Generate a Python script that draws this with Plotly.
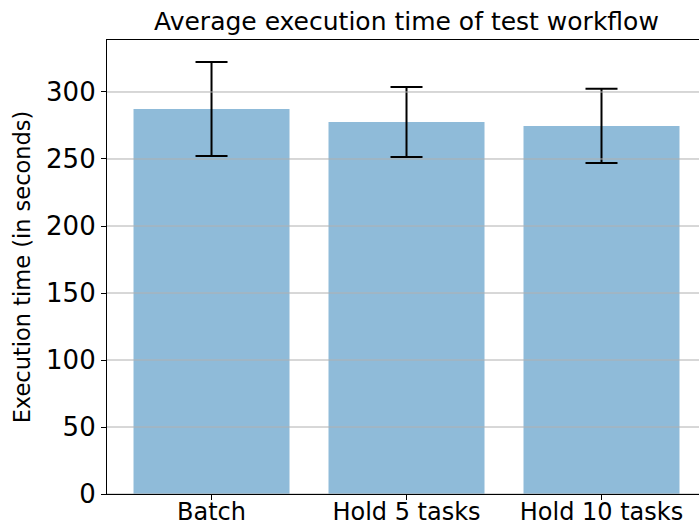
import plotly.graph_objects as go

categories = ["Batch", "Hold 5 tasks", "Hold 10 tasks"]
means = [287.3, 277.6, 274.7]
errors = [35.0, 26.1, 27.7]
y_ticks = [0, 50, 100, 150, 200, 250, 300]

font_family = "DejaVu Sans"

fig = go.Figure()
fig.add_trace(go.Bar(
    x=[0, 1, 2], y=means,
    width=0.8,
    marker=dict(color="rgba(31,119,180,0.5)", line=dict(width=0)),
))

# gridlines above bars (matplotlib style)
for t in y_ticks:
    fig.add_shape(type="line", xref="paper", yref="y", x0=0, x1=1, y0=t, y1=t,
                  line=dict(color="#b0b0b0", width=1), layer="above")

# error bars drawn above the gridlines
fig.add_trace(go.Scatter(
    x=[0, 1, 2], y=means, mode="markers",
    marker=dict(size=0.1, color="rgba(0,0,0,0)"),
    error_y=dict(type="data", array=errors, visible=True, color="black", thickness=2, width=16),
    hoverinfo="skip", showlegend=False,
))

fig.update_layout(
    width=699, height=526,
    margin=dict(l=107, r=0, t=40, b=32),
    plot_bgcolor="white", paper_bgcolor="white",
    showlegend=False,
    title=dict(text="Average execution time of test workflow", x=0.5815, xanchor="center",
               xref="container", yref="container",
               y=0.960, yanchor="middle",
               font=dict(family=font_family, size=25, color="black")),
    xaxis=dict(
        range=[-0.536, 2.5],
        tickvals=[0, 1, 2], ticktext=categories,
        tickfont=dict(family=font_family, size=24, color="black"),
        showline=True, linecolor="black", linewidth=1.2, mirror=True,
        ticks="outside", ticklen=5, tickcolor="black",
        ticklabelstandoff=-9,
        showgrid=False, zeroline=False, automargin=False,
    ),
    yaxis=dict(
        range=[0, 338.8],
        tickvals=y_ticks,
        tickfont=dict(family=font_family, size=26, color="black"),
        title=dict(text="Execution time (in seconds)", font=dict(family=font_family, size=22.5, color="black"), standoff=9),
        showline=True, linecolor="black", linewidth=1.2,
        ticks="outside", ticklen=5, tickcolor="black",
        showgrid=False, zeroline=False, automargin=False,
    ),
)

fig.write_html("out.html", config={"displayModeBar": False},
               post_script="document.body.style.margin='0';document.body.style.padding='0';")
